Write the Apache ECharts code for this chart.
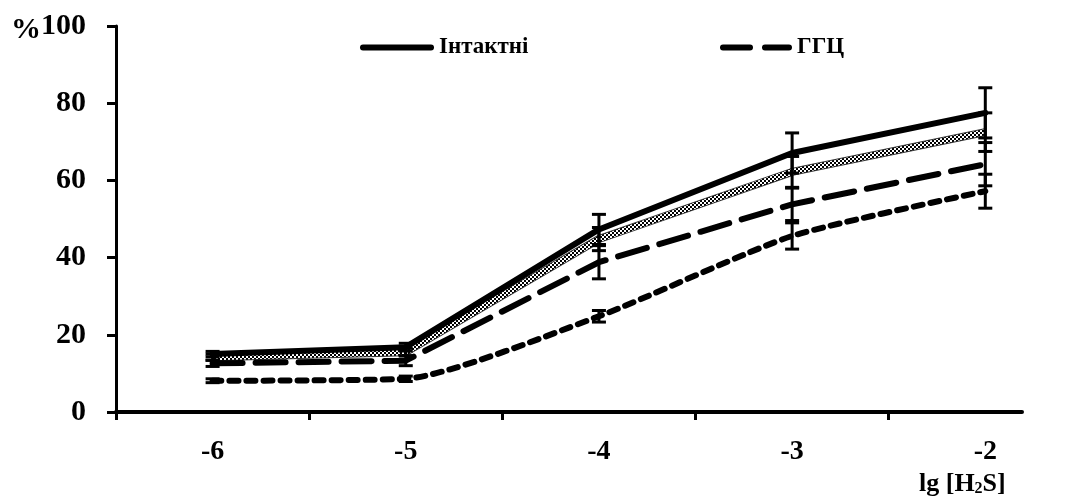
<!DOCTYPE html>
<html>
<head>
<meta charset="utf-8">
<script src="https://cdn.jsdelivr.net/npm/echarts@6/dist/echarts.min.js"></script>
<style>html,body{margin:0;padding:0;background:#fff}#c{width:1068px;height:499px}</style>
</head>
<body>
<div id="c"></div>
<script>
// ---- data ----
const categories = [-6, -5, -4, -3, -2];
const yTicks = [0, 20, 40, 60, 80, 100];
const intactMean = [15.0, 16.8, 47.3, 67.1, 77.5];
const intactErr  = [0.7, 1.0, 3.9, 5.2, 6.5];
const checkMean  = [14.2, 15.5, 44.8, 62.2, 72.5];
const checkErr   = [0.8, 1.0, 3.0, 4.0, 5.0];
const ggcMean    = [12.6, 13.3, 38.8, 53.8, 64.2];
const ggcErr     = [0.8, 1.3, 4.3, 4.2, 5.6];
const dotMean    = [8.1, 8.6, 24.8, 45.6, 57.2];
const dotErr     = [0.5, 0.7, 1.5, 3.4, 4.4];
const legendNames = ['Інтактні', 'ГГЦ'];

const FONT = "'Liberation Serif', 'Times New Roman', serif";

function pts(means) { return categories.map((x, i) => [x, means[i]]); }
function errs(means, e) { return categories.map((x, i) => [x, means[i] - e[i], means[i] + e[i]]); }

// checkered pattern
const pc = document.createElement('canvas');
pc.width = 4; pc.height = 4;
const pctx = pc.getContext('2d');
pctx.fillStyle = '#fff'; pctx.fillRect(0, 0, 4, 4);
pctx.fillStyle = '#000'; pctx.fillRect(0, 0, 2, 2); pctx.fillRect(2, 2, 2, 2);

function errRender(params, api) {
  const x = api.value(0), lo = api.value(1), hi = api.value(2);
  const a = api.coord([x, hi]), b = api.coord([x, lo]);
  const w = 7, st = { stroke: '#000', lineWidth: 3 };
  return { type: 'group', children: [
    { type: 'line', shape: { x1: a[0], y1: a[1], x2: b[0], y2: b[1] }, style: st },
    { type: 'line', shape: { x1: a[0] - w, y1: a[1], x2: a[0] + w, y2: a[1] }, style: st },
    { type: 'line', shape: { x1: b[0] - w, y1: b[1], x2: b[0] + w, y2: b[1] }, style: st }
  ]};
}
function errSeries(name, means, e) {
  return { type: 'custom', name: name, renderItem: errRender, data: errs(means, e),
    encode: { x: 0, y: [1, 2] }, z: 5, silent: true };
}

const legendText = { fontFamily: FONT, fontWeight: 'bold', fontSize: 23, color: '#000' };

const chart = echarts.init(document.getElementById('c'), null, { renderer: 'canvas' });
chart.setOption({
  animation: false,
  backgroundColor: '#fff',
  title: {
    text: 'lg [H{s|2}S]', left: 914, top: 466,
    textStyle: { fontFamily: FONT, fontWeight: 'bold', fontSize: 26, color: '#000',
      rich: { s: { fontFamily: FONT, fontWeight: 'bold', fontSize: 16, color: '#000', verticalAlign: 'bottom' } } }
  },
  legend: [
    { data: [legendNames[0]], left: 355, top: 31, itemWidth: 74, itemHeight: 6, itemGap: 0,
      icon: 'path://M3,0H71A3,3 0 0 1 71,6H3A3,3 0 0 1 3,0Z', textStyle: legendText },
    { data: [legendNames[1]], left: 715, top: 31, itemWidth: 72, itemHeight: 6, itemGap: 0,
      icon: 'path://M3,0H30A3,3 0 0 1 30,6H3A3,3 0 0 1 3,0Z M45,0H69A3,3 0 0 1 69,6H45A3,3 0 0 1 45,0Z', textStyle: legendText }
  ],
  grid: { left: 116, right: 46, top: 26, bottom: 87, containLabel: false },
  xAxis: {
    type: 'value', min: -6.5, max: -1.81,
    splitLine: { show: false },
    axisLine: { lineStyle: { color: '#000', width: 4 } },
    axisTick: { length: 8, lineStyle: { color: '#000', width: 3 }, customValues: [-6.5, -5.5, -4.5, -3.5, -2.5] },
    axisLabel: { customValues: categories, margin: 26, fontFamily: FONT, fontWeight: 'bold', fontSize: 28, color: '#000' }
  },
  yAxis: {
    type: 'value', min: 0, max: 100, interval: 20,
    splitLine: { show: false },
    axisLine: { show: true, lineStyle: { color: '#000', width: 3 } },
    axisTick: { show: true, length: 9, lineStyle: { color: '#000', width: 3 } },
    axisLabel: { margin: 30, fontFamily: FONT, fontWeight: 'bold', fontSize: 30, color: '#000',
      formatter: v => v === 100 ? '{p|%}100' : String(v),
      rich: { p: { fontFamily: FONT, fontWeight: 'bold', fontSize: 30, color: '#000', padding: [8, 0, 0, 0] } } }
  },
  series: [
    { name: 'Інтактні', type: 'line', data: pts(intactMean), symbol: 'none', z: 4,
      lineStyle: { color: '#000', width: 6, cap: 'round' }, itemStyle: { color: '#000' } },
    { name: 'checkEdge', type: 'line', data: pts(checkMean), symbol: 'none', z: 2,
      lineStyle: { color: '#333', width: 8 }, itemStyle: { color: '#333' } },
    { name: 'check', type: 'line', data: pts(checkMean), symbol: 'none', z: 3,
      lineStyle: { color: { image: pc, repeat: 'repeat' }, width: 6 }, itemStyle: { color: '#888' } },
    { name: 'ГГЦ', type: 'line', data: pts(ggcMean), symbol: 'none', z: 3,
      lineStyle: { color: '#000', width: 6, type: [30, 13], cap: 'round' }, itemStyle: { color: '#000' } },
    { name: 'dot', type: 'line', data: pts(dotMean), symbol: 'none', z: 3, smooth: 0.2,
      lineStyle: { color: '#000', width: 6, type: [9, 8], cap: 'round' }, itemStyle: { color: '#000' } },
    errSeries('e1', intactMean, intactErr),
    errSeries('e2', checkMean, checkErr),
    errSeries('e3', ggcMean, ggcErr),
    errSeries('e4', dotMean, dotErr)
  ]
});
</script>
</body>
</html>
